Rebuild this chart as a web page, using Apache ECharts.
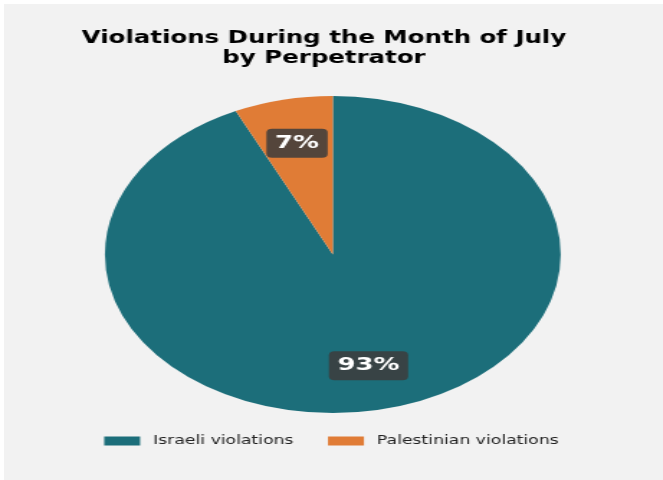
<!DOCTYPE html>
<html>
<head>
<meta charset="utf-8">
<script src="https://cdn.jsdelivr.net/npm/echarts@6/dist/echarts.min.js"></script>
<style>
  html, body { margin: 0; padding: 0; background: #ffffff; width: 663px; height: 480px; overflow: hidden; }
  #panel { position: absolute; left: 4px; top: 4px; right: 0; bottom: 0; background: #f2f2f2; }
  #chart { position: absolute; left: 0; top: 0; width: 461px; height: 480px; transform: scaleX(1.438); transform-origin: 0 0; }
</style>
</head>
<body>
<div id="panel"></div>
<div id="chart"></div>
<script>
const titleText = 'Violations During the Month of July\nby Perpetrator';
const categories = ['Israeli violations', 'Palestinian violations'];
const values = [93, 7];
const colors = ['#1c6e7a', '#e07c36'];

const chart = echarts.init(document.getElementById('chart'), null, { renderer: 'canvas' });
const pieData = categories.map((c, i) => ({ name: c, value: values[i], itemStyle: { color: colors[i] } }));
const total = values.reduce((a, b) => a + b, 0);

chart.setOption({
  backgroundColor: 'transparent',
  animation: false,
  title: {
    text: titleText,
    left: 220.3,
    textAlign: 'center',
    top: 24,
    textStyle: { fontFamily: 'DejaVu Sans', fontWeight: 'bold', fontSize: 17, color: '#000', lineHeight: 19.5 }
  },
  legend: {
    data: categories,
    bottom: 28,
    left: 'center',
    icon: 'rect',
    itemWidth: 25,
    itemHeight: 9,
    itemGap: 24,
    textStyle: { fontFamily: 'DejaVu Sans', fontSize: 12, color: '#222', padding: [0, 0, 0, 4] }
  },
  series: [
    {
      type: 'pie',
      center: ['50.2%', 254.5],
      radius: 158.5,
      startAngle: 90,
      clockwise: true,
      silent: true,
      label: { show: false },
      labelLine: { show: false },
      data: pieData
    },
    {
      type: 'pie',
      center: ['50.2%', 254.5],
      radius: [63.4, 158.5],
      startAngle: 90,
      clockwise: true,
      silent: true,
      itemStyle: { color: 'rgba(0,0,0,0)' },
      labelLine: { show: false },
      label: {
        show: true,
        position: 'inside',
        formatter: p => Math.round(p.value / total * 100) + '%',
        fontFamily: 'DejaVu Sans',
        fontWeight: 'bold',
        fontSize: 18,
        color: '#ffffff',
        backgroundColor: 'rgba(60,60,60,0.86)',
        borderRadius: 4,
        padding: [6, 6, 5, 6]
      },
      data: categories.map((c, i) => ({ name: c, value: values[i] }))
    }
  ]
});
</script>
</body>
</html>
